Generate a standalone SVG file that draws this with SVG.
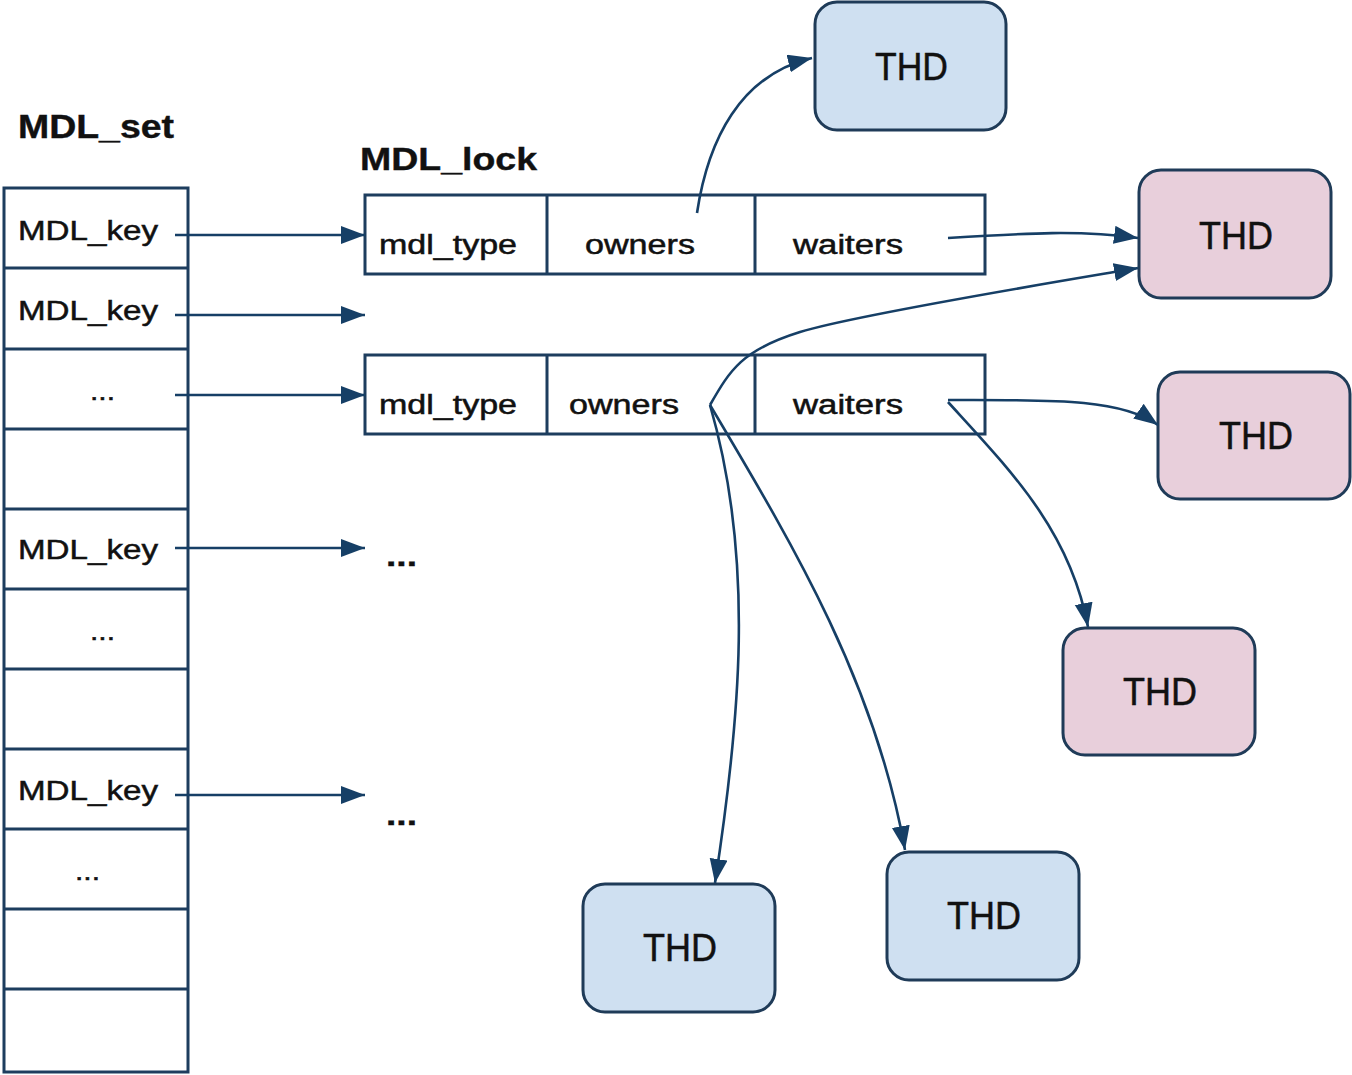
<svg xmlns="http://www.w3.org/2000/svg" width="1352" height="1075" viewBox="0 0 1352 1075">
<defs>
<marker id="ah" markerUnits="userSpaceOnUse" markerWidth="26" markerHeight="20" refX="24" refY="9" orient="auto">
<path d="M0,0 L24,9 L0,18 Z" fill="#163f66"/>
</marker>
</defs>
<style>
.cell{fill:#fff;stroke:#1d3d5e;stroke-width:3}
.t{font-family:"Liberation Sans",Arial,sans-serif;fill:#111;stroke:#111;stroke-width:0.5}
.b{font-family:"Liberation Sans",Arial,sans-serif;font-weight:bold;fill:#111;stroke:#111;stroke-width:0.4}
.blue{fill:#cfe0f1;stroke:#1f3b58;stroke-width:3}
.pink{fill:#e8cfdb;stroke:#1f3b58;stroke-width:3}
.c{fill:none;stroke:#163f66;stroke-width:2.6;marker-end:url(#ah)}
</style>
<rect width="1352" height="1075" fill="#fff"/>

<g id="mdl_set">
<text class="b" x="18" y="138" font-size="33" textLength="156" lengthAdjust="spacingAndGlyphs">MDL_set</text>
<rect class="cell" x="4" y="188" width="184" height="884"/>
<path d="M4,268H188M4,349H188M4,429H188M4,509H188M4,589H188M4,669H188M4,749H188M4,829H188M4,909H188M4,989H188" stroke="#1d3d5e" stroke-width="3" fill="none"/>
<text class="t" x="18" y="240" font-size="27" textLength="140" lengthAdjust="spacingAndGlyphs">MDL_key</text>
<text class="t" x="18" y="320" font-size="27" textLength="140" lengthAdjust="spacingAndGlyphs">MDL_key</text>
<text class="t" x="90" y="400" font-size="26" textLength="25" lengthAdjust="spacingAndGlyphs">...</text>
<text class="t" x="18" y="559" font-size="27" textLength="140" lengthAdjust="spacingAndGlyphs">MDL_key</text>
<text class="t" x="90" y="640" font-size="26" textLength="25" lengthAdjust="spacingAndGlyphs">...</text>
<text class="t" x="18" y="800" font-size="27" textLength="140" lengthAdjust="spacingAndGlyphs">MDL_key</text>
<text class="t" x="75" y="880" font-size="26" textLength="25" lengthAdjust="spacingAndGlyphs">...</text>
</g>

<g id="mdl_lock">
<text class="b" x="360" y="170" font-size="32" textLength="177" lengthAdjust="spacingAndGlyphs">MDL_lock</text>
</g>

<g id="lock1">
<rect class="cell" x="365" y="195" width="620" height="79"/>
<path d="M547,195V274M755,195V274" stroke="#1d3d5e" stroke-width="3"/>
<text class="t" x="379" y="254" font-size="27" textLength="138" lengthAdjust="spacingAndGlyphs">mdl_type</text>
<text class="t" x="585" y="254" font-size="27" textLength="110" lengthAdjust="spacingAndGlyphs">owners</text>
<text class="t" x="793" y="254" font-size="27" textLength="110" lengthAdjust="spacingAndGlyphs">waiters</text>
</g>

<g id="lock2">
<rect class="cell" x="365" y="355" width="620" height="79"/>
<path d="M547,355V434M755,355V434" stroke="#1d3d5e" stroke-width="3"/>
<text class="t" x="379" y="414" font-size="27" textLength="138" lengthAdjust="spacingAndGlyphs">mdl_type</text>
<text class="t" x="569" y="414" font-size="27" textLength="110" lengthAdjust="spacingAndGlyphs">owners</text>
<text class="t" x="793" y="414" font-size="27" textLength="110" lengthAdjust="spacingAndGlyphs">waiters</text>
</g>

<g id="more1"><text class="b" x="386" y="566" font-size="30" textLength="31" lengthAdjust="spacingAndGlyphs">...</text></g>
<g id="more2"><text class="b" x="386" y="825" font-size="30" textLength="31" lengthAdjust="spacingAndGlyphs">...</text></g>

<g id="thd1"><rect class="blue" x="815" y="2" width="191" height="128" rx="22"/><text class="t" x="875" y="80" font-size="38" textLength="73" lengthAdjust="spacingAndGlyphs">THD</text></g>
<g id="thd2"><rect class="pink" x="1139" y="170" width="192" height="128" rx="22"/><text class="t" x="1199" y="249" font-size="38" textLength="74" lengthAdjust="spacingAndGlyphs">THD</text></g>
<g id="thd3"><rect class="pink" x="1158" y="372" width="192" height="127" rx="22"/><text class="t" x="1219" y="449" font-size="38" textLength="74" lengthAdjust="spacingAndGlyphs">THD</text></g>
<g id="thd4"><rect class="pink" x="1063" y="628" width="192" height="127" rx="22"/><text class="t" x="1123" y="705" font-size="38" textLength="74" lengthAdjust="spacingAndGlyphs">THD</text></g>
<g id="thd5"><rect class="blue" x="583" y="884" width="192" height="128" rx="22"/><text class="t" x="643" y="961" font-size="38" textLength="74" lengthAdjust="spacingAndGlyphs">THD</text></g>
<g id="thd6"><rect class="blue" x="887" y="852" width="192" height="128" rx="22"/><text class="t" x="947" y="929" font-size="38" textLength="74" lengthAdjust="spacingAndGlyphs">THD</text></g>

<g id="connectors">
<path class="c" d="M175,235H365"/>
<path class="c" d="M175,315H365"/>
<path class="c" d="M175,395H365"/>
<path class="c" d="M175,548H365"/>
<path class="c" d="M175,795H365"/>
<path class="c" d="M697,213C708,140 740,75 812,58"/>
<path class="c" d="M948,238C1030,233 1080,230 1138,238"/>
<path class="c" d="M710,405C730,370 742,350 800,332S1080,278 1138,268"/>
<path class="c" d="M948,400C1050,400 1120,398 1158,425"/>
<path class="c" d="M948,402C1010,470 1070,530 1088,627"/>
<path class="c" d="M710,405C755,560 740,720 715,883"/>
<path class="c" d="M710,405C790,540 875,680 905,850"/>
</g>
</svg>
